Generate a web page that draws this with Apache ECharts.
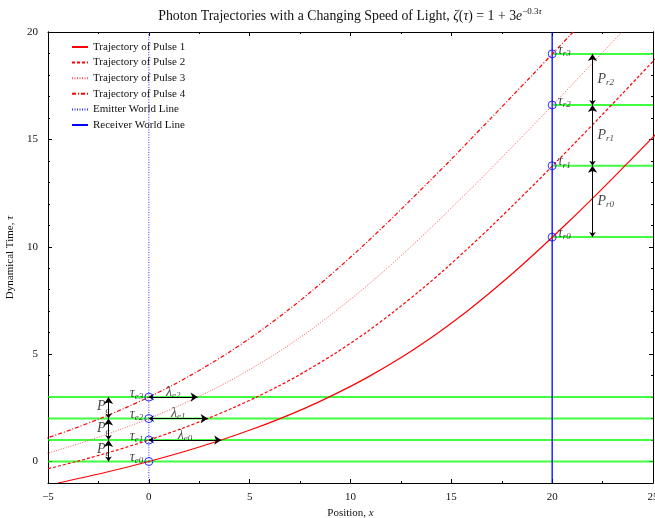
<!DOCTYPE html>
<html>
<head>
<meta charset="utf-8">
<script src="https://cdn.jsdelivr.net/npm/echarts@6/dist/echarts.min.js"></script>
<style>
  html, body { margin: 0; padding: 0; background: #fff; }
  #chart { width: 655px; height: 518px; }
</style>
</head>
<body>
<div id="chart"></div>
<script>
  // photon paths, [x, tau]
  const pulse1 = [[-4.50, -1], [-2.12, -0.5], [0, 0], [1.89, 0.5], [3.59, 1], [5.12, 1.5], [6.51, 2], [7.78, 2.5], [8.93, 3], [10.0, 3.5], [10.99, 4], [12.77, 5], [14.35, 6], [15.78, 7], [17.09, 8], [18.33, 9], [19.50, 10], [20.63, 11], [21.73, 12], [22.80, 13], [23.85, 14], [24.89, 15], [25.92, 16]]
  const pulse2 = [[-5.71, -0.5], [-3.59, 0], [-1.70, 0.5], [0, 1], [1.53, 1.5], [2.92, 2], [4.18, 2.5], [5.34, 3], [6.41, 3.5], [7.40, 4], [9.18, 5], [10.76, 6], [12.18, 7], [13.50, 8], [14.74, 9], [15.91, 10], [17.04, 11], [18.13, 12], [19.21, 13], [20.26, 14], [21.30, 15], [22.33, 16], [23.35, 17], [24.36, 18], [25.37, 19]]
  const pulse3 = [[-6.51, 0], [-4.62, 0.5], [-2.92, 1], [-1.39, 1.5], [0, 2], [1.26, 2.5], [2.42, 3], [3.49, 3.5], [4.48, 4], [6.26, 5], [7.84, 6], [9.26, 7], [10.58, 8], [11.82, 9], [12.99, 10], [14.12, 11], [15.21, 12], [16.29, 13], [17.34, 14], [18.38, 15], [19.41, 16], [20.43, 17], [21.44, 18], [22.45, 19], [23.46, 20]]
  const pulse4 = [[-5.34, 1], [-3.81, 1.5], [-2.42, 2], [-1.16, 2.5], [0, 3], [1.07, 3.5], [2.05, 4], [3.83, 5], [5.41, 6], [6.84, 7], [8.16, 8], [9.39, 9], [10.57, 10], [11.70, 11], [12.79, 12], [13.86, 13], [14.92, 14], [15.95, 15], [16.98, 16], [18.00, 17], [19.02, 18], [20.03, 19], [21.04, 20]]

  const emitterX = 0
  const receiverX = 20
  const emitTimes = [0, 1, 2, 3]
  const recvTimes = [10.45, 13.77, 16.6, 18.98]
  const lambdaEnds = [3.59, 2.92, 2.42] // where pulse 1,2,3 are when the next pulse leaves
  const emitSubs = ['e0', 'e1', 'e2', 'e3']
  const recvSubs = ['r0', 'r1', 'r2', 'r3']
  const lambdaSubs = ['e0', 'e1', 'e2']
  const periodSubs = ['r0', 'r1', 'r2']

  const yTicks = [0, 5, 10, 15, 20]
  const yMinorTicks = [1, 2, 3, 4, 6, 7, 8, 9, 11, 12, 13, 14, 16, 17, 18, 19]

  const serif = '"Liberation Serif", "DejaVu Serif", serif'
  const ink = '#111'
  const green = 'rgba(0, 255, 0, 0.75)'
  const clear = 'rgba(0,0,0,0)'

  const mathRich = {
    m: { fontFamily: serif, fontStyle: 'italic', fontSize: 14, lineHeight: 16, color: ink },
    s: { fontFamily: serif, fontStyle: 'italic', fontSize: 9, lineHeight: 9, verticalAlign: 'bottom', color: ink }
  }
  function sym (main, sub) {
    return '{m|' + main + '}{s|' + sub + '}'
  }

  function axisBase () {
    return {
      type: 'value',
      axisLine: { onZero: false, lineStyle: { color: '#000', width: 1 } },
      splitLine: { show: false },
      axisTick: { inside: true, length: 4, lineStyle: { color: '#000' } }
    }
  }

  let xAxes = [
    Object.assign(axisBase(), {
      position: 'bottom', min: -5, max: 25, interval: 5,
      minorTick: { show: true, splitNumber: 2, length: 2, lineStyle: { color: '#000' } },
      axisLabel: { fontFamily: serif, fontSize: 11, color: ink, margin: 9,
        formatter: function (v) { return v < 0 ? '\u2212' + (-v) : String(v) } },
      name: '{t|Position, }{i|x}',
      nameLocation: 'middle',
      nameGap: 25,
      nameTextStyle: { rich: {
        t: { fontFamily: serif, fontSize: 11, color: ink },
        i: { fontFamily: serif, fontSize: 11, fontStyle: 'italic', color: ink }
      } }
    }),
    Object.assign(axisBase(), {
      position: 'top', min: -5, max: 25, interval: 5,
      minorTick: { show: true, splitNumber: 2, length: 2, lineStyle: { color: '#000' } },
      axisLabel: { show: false }
    })
  ]

  function yAxis (pos, ticks, len, labels) {
    return Object.assign(axisBase(), {
      position: pos, min: -1, max: 20,
      axisTick: { inside: true, length: len, customValues: ticks, lineStyle: { color: '#000' } },
      axisLabel: labels
        ? { fontFamily: serif, fontSize: 11, color: ink, margin: 10, customValues: ticks }
        : { show: false }
    })
  }
  let yAxes = [
    Object.assign(yAxis('left', yTicks, 4, true), {
      name: '{t|Dynamical Time, }{i|\u03c4}',
      nameLocation: 'middle',
      nameGap: 24,
      nameTextStyle: { rich: {
        t: { fontFamily: serif, fontSize: 11, color: ink },
        i: { fontFamily: serif, fontSize: 11, fontStyle: 'italic', color: ink }
      } }
    }),
    yAxis('left', yMinorTicks, 2, false),
    yAxis('right', yTicks, 4, false),
    yAxis('right', yMinorTicks, 2, false)
  ]

  function pulseSeries (name, data, type, width, color) {
    return {
      name: name, type: 'line', data: data, smooth: 0.3, symbol: 'none', z: 3,
      lineStyle: { color: color, width: width, type: type },
      itemStyle: { color: clear, borderWidth: 0 }
    }
  }
  function plainLine (data, style, z) {
    return { type: 'line', data: data, symbol: 'none', silent: true, z: z || 2, lineStyle: style }
  }

  let series = [
    pulseSeries('Trajectory of Pulse 1', pulse1, 'solid', 1.2, '#ff0000'),
    pulseSeries('Trajectory of Pulse 2', pulse2, [3, 2], 1.2, '#ff0000'),
    pulseSeries('Trajectory of Pulse 3', pulse3, [1, 1.5], 1, '#ff5a5a'),
    pulseSeries('Trajectory of Pulse 4', pulse4, [4, 2, 1, 2], 1.2, '#ff0000'),
    pulseSeries('Emitter World Line', [[emitterX, -1], [emitterX, 20]], [1, 1.5], 1, '#3333ff'),
    pulseSeries('Receiver World Line', [[receiverX, -1], [receiverX, 20]], 'solid', 1.3, '#0000ff')
  ]
  series[4].z = 2
  series[5].z = 2

  // green markers of the emission and reception times
  emitTimes.forEach(function (t) {
    series.push(plainLine([[-5, t], [25, t]], { color: green, width: 2 }, 1))
  })
  recvTimes.forEach(function (t) {
    series.push(plainLine([[receiverX, t], [25, t]], { color: green, width: 2 }, 1))
  })

  // double headed arrows
  let arrows = []
  for (let i = 0; i < 3; i++) {
    arrows.push({ coords: [[-2, emitTimes[i]], [-2, emitTimes[i + 1]]] })
    arrows.push({ coords: [[22, recvTimes[i]], [22, recvTimes[i + 1]]] })
    arrows.push({ coords: [[emitterX, emitTimes[i + 1]], [lambdaEnds[i], emitTimes[i + 1]]] })
  }
  series.push({
    type: 'lines', coordinateSystem: 'cartesian2d', z: 4, silent: true,
    symbol: ['arrow', 'arrow'], symbolSize: [5, 7],
    lineStyle: { color: '#000', width: 1, opacity: 1 },
    data: arrows
  })

  const circleStyle = { color: clear, borderColor: '#0000ff', borderWidth: 1 }
  series.push({
    type: 'scatter', z: 5, silent: true, symbol: 'circle', symbolSize: 8, itemStyle: circleStyle,
    data: emitTimes.map(function (t, i) { return { value: [emitterX, t], sub: emitSubs[i] } }),
    label: {
      show: true, position: 'left', distance: 1, offset: [0, -4], rich: mathRich,
      formatter: function (p) { return sym('\u03c4', p.data.sub) }
    }
  })
  series.push({
    type: 'scatter', z: 5, silent: true, symbol: 'circle', symbolSize: 8, itemStyle: circleStyle,
    data: recvTimes.map(function (t, i) { return { value: [receiverX, t], sub: recvSubs[i] } }),
    label: {
      show: true, position: 'right', distance: 1, offset: [0, -4], rich: mathRich,
      formatter: function (p) { return sym('\u03c4', p.data.sub) }
    }
  })

  // text-only marks
  function textSeries (data, label) {
    return {
      type: 'scatter', symbolSize: 0, z: 6, silent: true, data: data,
      label: Object.assign({ show: true, rich: mathRich, formatter: function (p) { return p.data.text } }, label)
    }
  }
  series.push(textSeries(lambdaEnds.map(function (e, i) {
    return { value: [e / 2, emitTimes[i + 1]], text: sym('\u03bb', lambdaSubs[i]) }
  }), { position: 'top', distance: -3 }))
  series.push(textSeries(emitTimes.slice(0, 3).map(function (t) {
    return { value: [-2, t + 0.55], text: sym('P', 'e') }
  }), { position: 'left', distance: -1 }))
  series.push(textSeries(recvTimes.slice(0, 3).map(function (t, i) {
    return { value: [22, (t + recvTimes[i + 1]) / 2], text: sym('P', periodSubs[i]) }
  }), { position: 'right', distance: 5 }))

  let chart = echarts.init(document.getElementById('chart'), null, { renderer: 'canvas' })
  chart.setOption({
    animation: false,
    backgroundColor: '#fff',
    title: {
      left: 350, top: 7, padding: 0, textAlign: 'center',
      text: '{n|Photon Trajectories with a Changing Speed of Light, }{i|\u03b6}{n|(}{i|\u03c4}{n|) = 1 + 3}{i|e}{sup|\u22120.3}{si|\u03c4}',
      textStyle: {
        fontWeight: 'normal',
        rich: {
          n: { fontFamily: serif, fontSize: 13.8, fontWeight: 'normal', lineHeight: 18, color: ink },
          i: { fontFamily: serif, fontSize: 13.8, fontWeight: 'normal', fontStyle: 'italic', lineHeight: 18, color: ink },
          sup: { fontFamily: serif, fontSize: 9, fontWeight: 'normal', lineHeight: 9, verticalAlign: 'top', color: ink },
          si: { fontFamily: serif, fontSize: 9, fontWeight: 'normal', fontStyle: 'italic', lineHeight: 9, verticalAlign: 'top', color: ink }
        }
      }
    },
    legend: {
      orient: 'vertical', left: 66, top: 36,
      itemWidth: 16, itemHeight: 8, itemGap: 3.6,
      itemStyle: { color: clear, borderWidth: 0 },
      textStyle: { fontFamily: serif, fontSize: 11, color: ink, lineHeight: 12 },
      data: ['Trajectory of Pulse 1', 'Trajectory of Pulse 2', 'Trajectory of Pulse 3', 'Trajectory of Pulse 4', 'Emitter World Line', 'Receiver World Line']
    },
    grid: { left: 48, right: 2, top: 32, bottom: 35, containLabel: false, outerBoundsMode: 'none' },
    xAxis: xAxes,
    yAxis: yAxes,
    series: series
  })
</script>
</body>
</html>
